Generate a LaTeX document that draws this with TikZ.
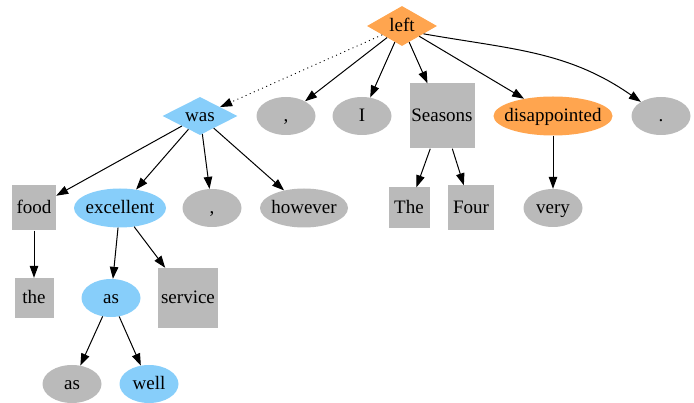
\documentclass[tikz,border=0pt]{standalone}
\usepackage{fontspec}
\setmainfont{Liberation Serif}
\usetikzlibrary{shapes.geometric,arrows.meta}
\definecolor{rootorange}{RGB}{255,165,79}
\definecolor{skyblue}{RGB}{135,206,250}
\definecolor{wordgray}{RGB}{186,186,186}
\newcommand{\wrd}[1]{\makebox[0pt]{#1}}

\begin{document}
\begin{tikzpicture}[x=1pt,y=1pt,font=\fontsize{19}{22}\selectfont,
        every node/.style={text height=16pt,text depth=4pt},
        oval/.style={ellipse,fill=wordgray,inner sep=0pt,minimum width=59pt,minimum height=38pt},
        tok/.style={rectangle,fill=wordgray,inner sep=0pt},
        head/.style={diamond,inner sep=0pt},
        dep/.style={-{Triangle[length=12pt,width=8.5pt]},line width=1pt}]
                \useasboundingbox (0,0) rectangle (694,-403);
                % top row
                \node[head,fill=rootorange,minimum width=70pt,minimum height=40pt] (left) at (402,-26) {\wrd{left}};
                \node[head,fill=skyblue,minimum width=75pt,minimum height=38pt] (was) at (200,-116) {\wrd{was}};
                \node[oval] (comma1) at (286,-116) {\wrd{,}};
                \node[oval] (i) at (362,-116) {\wrd{I}};
                \node[tok,minimum size=65pt] (seasons) at (442,-116) {\wrd{Seasons}};
                \node[oval,fill=rootorange,minimum width=119pt,minimum height=39pt] (disappointed) at (553,-116) {\wrd{disappointed}};
                \node[oval] (period) at (661,-116) {\wrd{.}};
                % second row
                \node[tok,minimum width=44pt,minimum height=45pt] (food) at (34,-208) {\wrd{food}};
                \node[oval,fill=skyblue,minimum width=92pt,minimum height=39pt] (excellent) at (120,-208) {\wrd{excellent}};
                \node[oval] (comma2) at (212,-208) {\wrd{,}};
                \node[oval,minimum width=88pt,minimum height=39pt] (however) at (304,-208) {\wrd{however}};
                \node[tok,minimum size=41pt] (theS) at (409,-208) {\wrd{The}};
                \node[tok,minimum width=46pt,minimum height=45pt] (four) at (471,-208) {\wrd{Four}};
                \node[oval] (very) at (553,-208) {\wrd{very}};
                % third row
                \node[tok,minimum width=39pt,minimum height=40pt] (the) at (34,-298) {\wrd{the}};
                \node[oval,fill=skyblue] (asA) at (111,-298) {\wrd{as}};
                \node[tok,minimum size=60pt] (service) at (188,-298) {\wrd{service}};
                % bottom row
                \node[oval] (asB) at (72,-384) {\wrd{as}};
                \node[oval,fill=skyblue] (well) at (149,-384) {\wrd{well}};
                % arcs
                \draw[dep,line width=0.9pt,dash pattern=on 1pt off 3.5pt] (left) -- (was);
                \foreach \t in {comma1,i,seasons,disappointed}{
                    \draw[dep] (left) -- (\t);
                }
                \draw[dep] (left.-20) to[out=-10,in=145] (period);
                \foreach \t in {food,excellent,comma2,however}{
                    \draw[dep] (was) -- (\t);
                }
                \draw[dep] (food) -- (the);
                \draw[dep] (excellent) -- (asA);
                \draw[dep] (excellent) -- (service);
                \draw[dep] (asA) -- (asB);
                \draw[dep] (asA) -- (well);
                \draw[dep] (seasons) -- (theS);
                \draw[dep] (seasons) -- (four);
                \draw[dep] (disappointed) -- (very);
            \end{tikzpicture}
\end{document}
